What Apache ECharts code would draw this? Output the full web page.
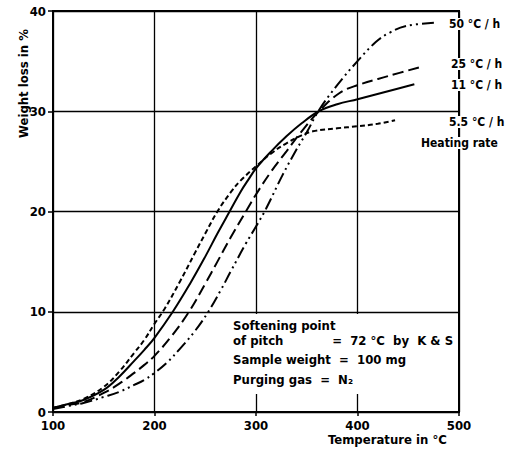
<!DOCTYPE html>
<html><head><meta charset="utf-8">
<script src="https://cdn.jsdelivr.net/npm/echarts@6/dist/echarts.min.js"></script>
<style>html,body{margin:0;padding:0;background:#fff}#c{width:506px;height:450px}</style>
</head><body><div id="c"></div>
<script>
const xTicks = [100, 200, 300, 400, 500];
const yTicks = [0, 10, 20, 30, 40];
const t55 = [100,115,130,150,165,180,190,200,210,225,240,250,262,275,285,300,315,330,345,356,380,400,420,437];
const w55 = [0.4,0.8,1.3,2.5,4.0,5.9,7.2,8.8,10.3,13.0,15.9,17.8,20,21.9,23.1,24.5,25.8,26.8,27.6,28.0,28.3,28.5,28.75,29.1];
const t11 = [100,115,130,150,165,180,190,200,218,235,250,262,274,285,292,300,315,330,345,362,380,400,430,456];
const w11 = [0.4,0.8,1.2,2.2,3.5,5.1,6.2,7.4,10,12.8,15.5,17.8,20,22.0,23.1,24.3,26.0,27.5,28.8,30.0,30.7,31.2,32.0,32.7];
const t25 = [100,115,130,150,165,180,190,200,217,234,250,262,275,290,300,315,330,345,362,382,400,430,465];
const w25 = [0.4,0.7,1.0,1.9,2.8,3.9,4.7,5.6,7.6,10,12.8,15.0,17.4,20,21.7,24.0,26.0,28.0,30.0,31.8,32.6,33.5,34.5];
const t50 = [100,115,130,150,165,180,190,200,212,225,240,253,265,275,290,300,310,326,340,350,362,380,400,418,431,448,478];
const w50 = [0.3,0.6,0.9,1.5,2.0,2.7,3.2,3.9,4.9,6.3,8.1,10,12.1,14.0,16.8,18.5,20.3,23.6,26.2,27.9,30.1,32.6,35.0,36.9,37.8,38.5,38.85];
const rateLabels = ['50 °C / h', '25 °C / h', '11 °C / h', '5.5 °C / h'];
const noteLines = ['Softening point', 'of pitch            =  72 °C  by  K & S', 'Sample weight  =  100 mg', 'Purging gas  =  N₂'];

const FONT = "'DejaVu Sans Condensed', 'DejaVu Sans', sans-serif";
const zip = (t, w) => t.map((v, i) => [v, w[i]]);
const chart = echarts.init(document.getElementById('c'), null, {renderer: 'svg'});
const mk = (name, t, w, type) => ({
  name, type: 'line', data: zip(t, w), smooth: 0.4, showSymbol: false, silent: true,
  lineStyle: {color: '#000', width: 2, type: type}
});
const txt = (x, y, s, extra, rot) => ({
  type: 'text', x, y, z: 100, rotation: rot || 0,
  style: Object.assign({text: s, fill: '#000', font: 'bold 13px ' + FONT, backgroundColor: '#fff'}, extra || {})
});
const small = {font: 'bold 12px ' + FONT};
chart.setOption({
  animation: false,
  grid: {left: 53, right: 47, top: 11, bottom: 38, show: true, borderColor: '#000', borderWidth: 2},
  xAxis: {
    type: 'value', min: xTicks[0], max: xTicks[xTicks.length - 1], interval: 100,
    axisLine: {lineStyle: {color: '#000', width: 2}},
    axisTick: {show: true, length: 4, lineStyle: {color: '#000', width: 1.5}},
    axisLabel: {color: '#000', fontFamily: FONT, fontWeight: 'bold', fontSize: 13, margin: 7},
    splitLine: {lineStyle: {color: '#000', width: 1.3}}
  },
  yAxis: {
    type: 'value', min: yTicks[0], max: yTicks[yTicks.length - 1], interval: 10,
    axisLine: {lineStyle: {color: '#000', width: 2}},
    axisTick: {show: true, length: 5, lineStyle: {color: '#000', width: 1.5}},
    axisLabel: {color: '#000', fontFamily: FONT, fontWeight: 'bold', fontSize: 13, margin: 7},
    splitLine: {lineStyle: {color: '#000', width: 1.3}}
  },
  series: [
    mk('5.5 °C/h', t55, w55, [5, 3]),
    mk('11 °C/h', t11, w11, 'solid'),
    mk('25 °C/h', t25, w25, [11, 5]),
    mk('50 °C/h', t50, w50, [12, 4, 2, 4, 2, 4])
  ],
  graphic: [
    txt(449, 18, rateLabels[0], small),
    txt(451, 58, rateLabels[1], small),
    txt(451, 79, rateLabels[2], small),
    txt(449, 116, rateLabels[3], small),
    txt(421, 137, 'Heating rate', small),
    {type: 'rect', z: 90, shape: {x: 229, y: 314, width: 226, height: 80}, style: {fill: '#fff'}},
    txt(233, 319, noteLines[0], {backgroundColor: null}),
    txt(233, 334, noteLines[1], {backgroundColor: null}),
    txt(233, 353, noteLines[2], {backgroundColor: null}),
    txt(233, 373, noteLines[3], {backgroundColor: null}),
    txt(17, 138, 'Weight loss in %', {backgroundColor: null}, Math.PI / 2),
    txt(328, 433, 'Temperature in °C', {backgroundColor: null})
  ]
});
</script></body></html>
